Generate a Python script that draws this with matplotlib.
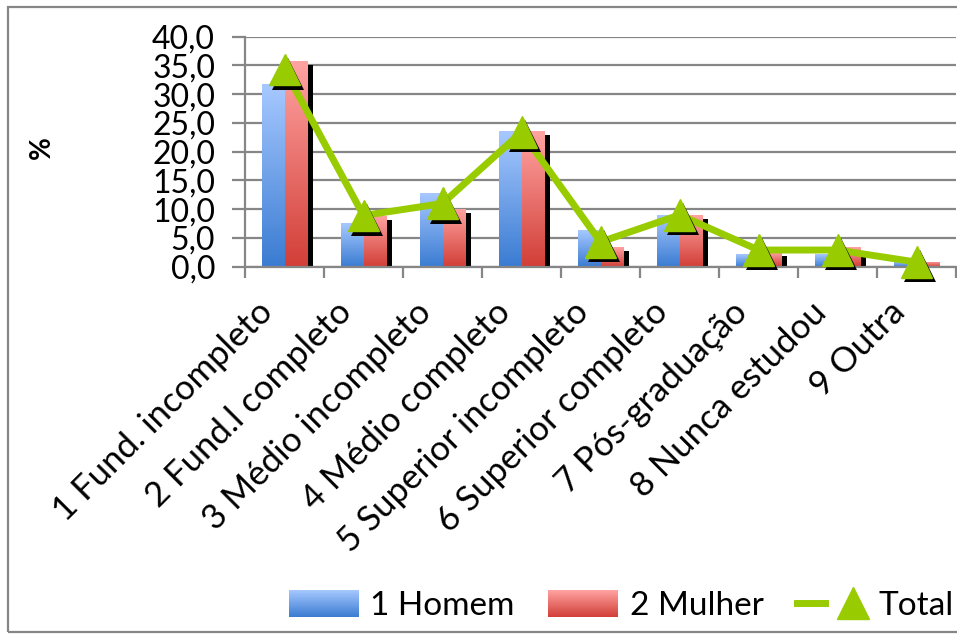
import numpy as np
import matplotlib
matplotlib.use('Agg')
import matplotlib.pyplot as plt
import matplotlib.patheffects as pe
import matplotlib.transforms as mtransforms
from matplotlib.colors import LinearSegmentedColormap
from matplotlib.patches import Rectangle
from matplotlib.legend_handler import HandlerTuple, HandlerBase
from matplotlib.image import BboxImage
from matplotlib.transforms import Bbox, TransformedBbox
from matplotlib.ticker import FuncFormatter, FixedLocator

plt.rcParams['font.family'] = ['Lato', 'DejaVu Sans']

categorias = ['1 Fund. incompleto', '2 Fund.l completo', '3 Médio incompleto',
              '4 Médio completo', '5 Superior incompleto', '6 Superior completo',
              '7 Pós-graduação', '8 Nunca estudou', '9 Outra']
homem = [31.7, 7.6, 12.8, 23.6, 6.4, 9.0, 2.2, 2.2, 1.0]
mulher = [35.8, 8.9, 10.1, 23.6, 3.4, 9.0, 2.6, 3.4, 0.9]
total = [34.3, 8.9, 11.0, 23.4, 4.3, 9.0, 2.9, 2.9, 0.8]

GRAY = '#868686'
VERDE = '#99CC00'
FS = 23

fig = plt.figure(figsize=(9.57, 6.35), dpi=100)
ax = fig.add_axes([245 / 957, 1 - 266.7 / 635, 711 / 957, 230 / 635])

x = np.arange(len(categorias))
w = 0.28

b1 = ax.bar(x - w / 2, homem, w, color='#6A9BE6', zorder=2)
b2 = ax.bar(x + w / 2, mulher, w, color='#E86A66', zorder=2,
            path_effects=[pe.SimplePatchShadow(offset=(4.5, -3), shadow_rgbFace='black', alpha=1),
                          pe.Normal()])


def mapa(claro, escuro):
    return LinearSegmentedColormap.from_list('g', [escuro, claro])


def gradiente(barras, claro, escuro):
    cmap = mapa(claro, escuro)
    grad = np.linspace(0, 1, 64).reshape(-1, 1)
    for b in barras:
        x0, y0 = b.get_xy()
        im = ax.imshow(grad, cmap=cmap, origin='lower', aspect='auto',
                       extent=(x0, x0 + b.get_width(), y0, y0 + b.get_height()),
                       zorder=2.1, interpolation='bilinear')
        im.set_clip_path(b)


class Degrade(HandlerBase):
    # legend swatch with the same vertical gradient as the bars
    def __init__(self, claro, escuro):
        super().__init__()
        self.cmap = mapa(claro, escuro)

    def create_artists(self, legend, orig_handle, xdescent, ydescent,
                       width, height, fontsize, trans):
        bb = TransformedBbox(Bbox.from_bounds(-xdescent, -ydescent, width, height), trans)
        img = BboxImage(bb, cmap=self.cmap, interpolation='bilinear')
        img.set_data(np.linspace(1, 0, 64).reshape(-1, 1))
        return [img]


AZUL = ('#A6C8FF', '#3B7CD2')
VERM = ('#FFA3A1', '#D23F38')
gradiente(b1, *AZUL)
gradiente(b2, *VERM)

linha, = ax.plot(x, total, color=VERDE, lw=5, zorder=3, solid_joinstyle='miter')
marcas, = ax.plot(x, total, ls='none', marker='^', ms=23, color=VERDE, zorder=4,
                  clip_on=False,
                  path_effects=[pe.SimplePatchShadow(offset=(2.2, -3), shadow_rgbFace='black', alpha=1),
                                pe.Normal()])

ax.set_xlim(-0.5, len(categorias) - 0.5)
ax.set_ylim(0, 40)
ax.set_yticks(np.arange(0, 41, 5))
ax.yaxis.set_major_formatter(FuncFormatter(lambda v, p: f'{v:.1f}'.replace('.', ',')))
ax.grid(axis='y', color=GRAY, lw=1.6, zorder=0)
ax.set_axisbelow(True)

for s in ['top', 'right']:
    ax.spines[s].set_visible(False)
for s in ['left', 'bottom']:
    ax.spines[s].set_color(GRAY)
    ax.spines[s].set_linewidth(1.6)

ax.tick_params(axis='y', length=9.5, width=1.6, color=GRAY, pad=12, labelsize=FS)
ax.set_xticks(x)
ax.set_xticklabels(categorias, rotation=45, ha='right', va='top',
                   rotation_mode='anchor', fontsize=25)
ax.tick_params(axis='x', which='major', length=0, pad=21)
ax.xaxis.set_minor_locator(FixedLocator(np.arange(-0.5, len(categorias), 1)))
ax.tick_params(axis='x', which='minor', length=8, width=1.6, color=GRAY)

shift = mtransforms.ScaledTranslation(-0.28, 0, fig.dpi_scale_trans)
for lab in ax.get_xticklabels():
    lab.set_transform(lab.get_transform() + shift)

ax.set_ylabel('%', fontsize=20, fontweight='bold')
ax.yaxis.set_label_coords(-0.267, 0.52)

leg = fig.legend([b1, b2, (linha, marcas)], ['1 Homem', '2 Mulher', 'Total'],
                 handler_map={b1: Degrade(*AZUL), b2: Degrade(*VERM),
                              tuple: HandlerTuple(ndivide=None)},
                 loc='center right', bbox_to_anchor=(1.0105, 1 - 606 / 635), ncol=3,
                 frameon=False, fontsize=24, handlelength=2.1, handleheight=0.85,
                 handletextpad=0.35, columnspacing=1.0, borderaxespad=0)
for a in leg.findobj(lambda o: hasattr(o, 'set_path_effects')):
    a.set_path_effects([])

fig.add_artist(Rectangle((8 / 957, 1 - 632 / 635), 1.2, (632 - 7) / 635,
                         transform=fig.transFigure, fill=False, edgecolor=GRAY, lw=1.6))

fig.savefig('out.png', dpi=100)
